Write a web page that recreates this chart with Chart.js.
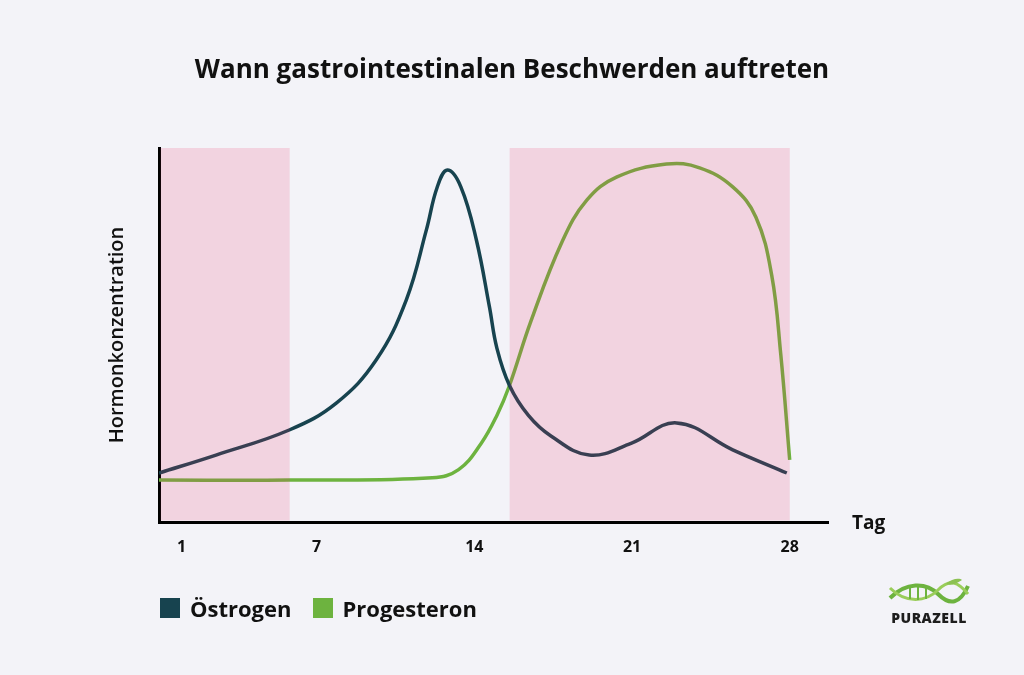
<!DOCTYPE html>
<html lang="de">
<head>
<meta charset="utf-8">
<script src="https://cdn.jsdelivr.net/npm/chart.js@4.4.1/dist/chart.umd.min.js"></script>
<style>
  html, body { margin: 0; padding: 0; background: #f3f3f8; }
  #wrap { position: relative; width: 1024px; height: 675px; }
  #title {
    position: absolute; left: 0; top: 50px; width: 1024px; text-align: center;
    font-family: "Open Sans", sans-serif; font-weight: 700; font-size: 26px; color: #111;
  }
  #legend {
    position: absolute; left: 160px; top: 593px;
    display: flex; align-items: center;
    font-family: "Open Sans", sans-serif; font-weight: 700; font-size: 22px; color: #111;
  }
  #legend span.box { display: inline-block; width: 20px; height: 20px; margin-right: 10px; }
  #legend span.item { display: flex; align-items: center; margin-right: 21px; }
  #logo { position: absolute; left: 884px; top: 578px; width: 90px; text-align: center; }
  #logo div {
    font-family: "Open Sans", sans-serif; font-weight: 800; font-size: 14px;
    color: #1d1d1d; letter-spacing: 0.5px; margin-top: -4px;
  }
</style>
</head>
<body>
<div id="wrap">
  <canvas id="myChart" width="1024" height="675"></canvas>
  <div id="title">Wann gastrointestinalen Beschwerden auftreten</div>
  <div id="legend"></div>
  <div id="logo">
    <svg width="86" height="30" viewBox="0 0 86 30">
      <path d="M4 20 C20 4, 40 4, 52 16 S74 26, 82 8" fill="none" stroke="#6db33f" stroke-width="4"/>
      <path d="M4 10 C20 26, 40 24, 52 12 S72 4, 82 16" fill="none" stroke="#9acd5a" stroke-width="3"/>
      <path d="M24 9 V21 M32 8 V22 M40 9 V21" stroke="#6db33f" stroke-width="2"/>
      <path d="M60 6 C66 0, 74 0, 76 2 C70 6, 64 8, 60 6 Z" fill="#8cc152"/>
    </svg>
    <div>PURAZELL</div>
  </div>
</div>
<script>
const estrogenDays = [0, 2.53, 5.78, 7.87, 9.64, 10.98, 11.87, 12.35, 12.8, 13.4, 14.09, 14.67, 15.0, 15.56, 16.4, 17.4, 19.1, 20.98, 22.98, 25.47, 27.87];
const estrogenValues = [13.1, 17.9, 24.6, 31.8, 43.3, 59.4, 78.1, 89.5, 94.1, 89.6, 75.4, 57.5, 46.5, 36.5, 28.5, 23.0, 17.9, 21.1, 26.5, 19.3, 13.1];

const progDays = [0, 5.78, 12.13, 13.3, 14.3, 15.0, 15.56, 16.5, 17.9, 19.0, 20.31, 22.53, 24.0, 25.47, 26.5, 27.2, 27.6, 28.0];
const progValues = [11.2, 11.2, 11.8, 14.0, 21.0, 28.5, 36.5, 53.5, 75.0, 86.1, 92.2, 95.7, 94.7, 89.6, 81.5, 66.0, 45.0, 16.6];

// phases marked in pink (start day, end day)
const bandStarts = [0, 15.5];
const bandEnds = [5.8, 28];

const xTicks = [1, 7, 14, 21, 28];
const seriesNames = ["Östrogen", "Progesteron"];
const seriesColors = ["#17434f", "#6db33f"];

const toPoints = (xs, ys) => xs.map((x, i) => ({ x: x, y: ys[i] }));

const bandsPlugin = {
  id: "bands",
  afterDatasetsDraw(chart) {
    const { ctx, chartArea, scales } = chart;
    ctx.save();
    ctx.fillStyle = "rgba(237, 43, 98, 0.16)";
    bandStarts.forEach((s, i) => {
      const x1 = scales.x.getPixelForValue(s) + 1.5;
      const x2 = scales.x.getPixelForValue(bandEnds[i]);
      ctx.fillRect(x1, chartArea.top, x2 - x1, chartArea.bottom - chartArea.top - 1.5);
    });
    ctx.restore();
  },
  afterDraw(chart) {
    const { ctx, chartArea } = chart;
    ctx.save();
    ctx.font = "700 19px 'Open Sans'";
    ctx.fillStyle = "#111";
    ctx.textBaseline = "middle";
    ctx.fillText("Tag", chartArea.right + 24, chartArea.bottom + 2);
    ctx.restore();
  }
};

const config = {
  type: "line",
  data: {
    datasets: [
      {
        label: seriesNames[0],
        data: toPoints(estrogenDays, estrogenValues),
        borderColor: seriesColors[0],
        borderWidth: 3.5,
        pointRadius: 0,
        tension: 0.4,
      },
      {
        label: seriesNames[1],
        data: toPoints(progDays, progValues),
        borderColor: seriesColors[1],
        borderWidth: 3.5,
        pointRadius: 0,
        tension: 0.4,
      },
    ],
  },
  options: {
    responsive: false,
    animation: false,
    events: [],
    layout: { padding: { left: 105, right: 196, top: 148, bottom: 0 } },
    plugins: {
      legend: { display: false },
      tooltip: { enabled: false },
    },
    scales: {
      x: {
        type: "linear",
        min: 0,
        max: 29.7,
        afterBuildTicks: (scale) => { scale.ticks = xTicks.map((v) => ({ value: v })); },
        afterFit: (scale) => { scale.height = 153; },
        grid: { display: false, drawTicks: false },
        border: { color: "#000", width: 3 },
        ticks: {
          color: "#111",
          padding: 16,
          font: { family: "Open Sans", size: 16, weight: "700" },
        },
      },
      y: {
        min: 0,
        max: 100,
        afterFit: (scale) => { scale.width = 54; },
        grid: { display: false, drawTicks: false },
        border: { color: "#000", width: 3 },
        ticks: { display: false },
        title: {
          display: true,
          text: "Hormonkonzentration",
          color: "#111",
          padding: { top: 0, bottom: 0 },
          font: { family: "Open Sans", size: 20, weight: "600" },
        },
      },
    },
  },
  plugins: [bandsPlugin],
};

const myChart = new Chart(document.getElementById("myChart"), config);

// legend below the chart
const legend = document.getElementById("legend");
seriesNames.forEach((name, i) => {
  const item = document.createElement("span");
  item.className = "item";
  item.innerHTML = '<span class="box" style="background:' + seriesColors[i] + '"></span>' + name;
  legend.appendChild(item);
});
</script>
</body>
</html>
